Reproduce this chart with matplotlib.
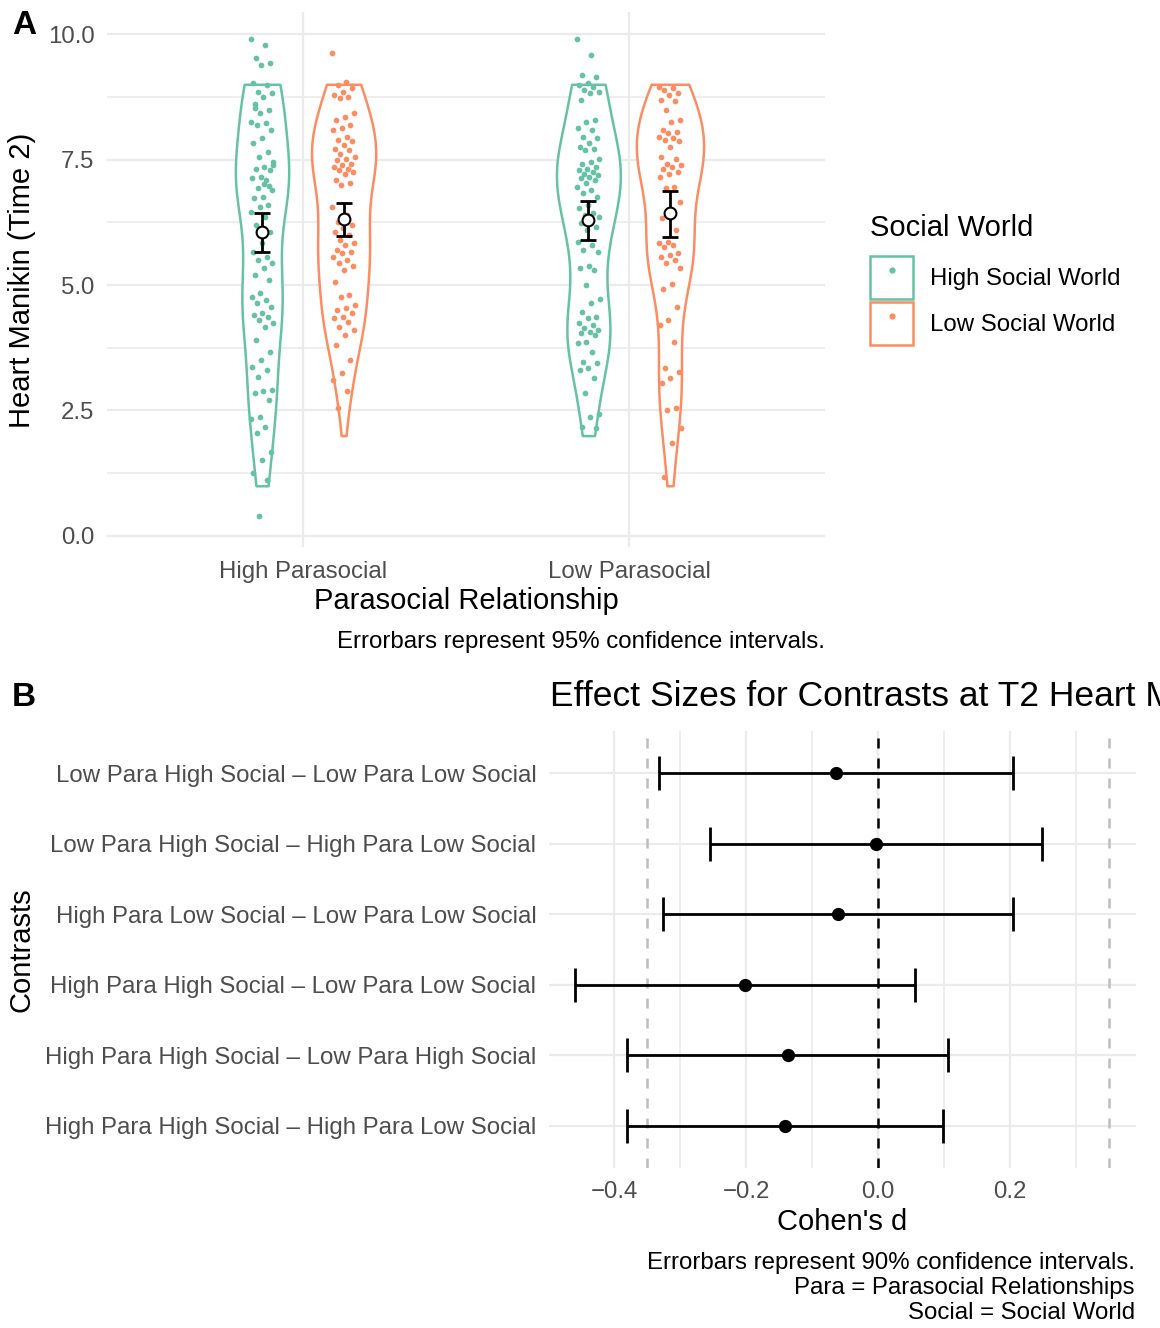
import numpy as np
import matplotlib
matplotlib.use("Agg")
import matplotlib.pyplot as plt
from matplotlib.patches import Rectangle
from matplotlib.lines import Line2D
from matplotlib.legend_handler import HandlerTuple

plt.rcParams['font.family'] = ['Liberation Sans', 'DejaVu Sans']

# ---- panel A data (jittered Heart Manikin responses) ----
para_levels = ["High Parasocial", "Low Parasocial"]
social_levels = ["High Social World", "Low Social World"]
social_colors = ["#66C2A5", "#FC8D62"]

hp_hs = [9.91, 9.78, 9.52, 9.42, 9.38, 9.02, 8.98, 8.85, 8.82, 8.75, 8.52, 8.49,
         8.42, 8.25, 8.22, 8.19, 8.09, 7.92, 7.82, 7.66, 7.56, 7.39, 7.36, 7.32,
         7.29, 7.16, 7.13, 7.09, 6.93, 6.89, 6.76, 6.73, 6.59, 6.56, 6.46, 6.36,
         6.20, 6.05, 5.83, 5.66, 5.56, 5.50, 5.43, 5.33, 5.20, 5.10, 4.84, 4.77,
         4.70, 4.64, 4.57, 4.44, 4.40, 4.37, 4.30, 4.24, 4.17, 3.90, 3.67, 3.51,
         3.37, 3.31, 3.17, 2.91, 2.88, 2.84, 2.71, 2.38, 2.34, 2.18, 2.05, 1.68,
         1.51, 1.25, 1.12, 0.39, 7.45, 7.02, 8.60, 6.98]
hp_ls = [9.63, 9.05, 8.98, 8.92, 8.85, 8.79, 8.75, 8.72, 8.42, 8.35, 8.29, 8.19,
         8.12, 8.09, 7.95, 7.89, 7.86, 7.79, 7.72, 7.69, 7.62, 7.56, 7.52, 7.49,
         7.42, 7.39, 7.36, 7.32, 7.29, 7.26, 7.22, 7.09, 7.03, 6.99, 6.55, 6.40,
         6.26, 6.20, 6.13, 6.06, 6.00, 5.90, 5.83, 5.80, 5.70, 5.66, 5.63, 5.56,
         5.50, 5.43, 5.37, 5.30, 5.07, 4.80, 4.77, 4.60, 4.54, 4.50, 4.44, 4.37,
         4.34, 4.27, 4.17, 4.10, 4.00, 3.80, 3.51, 3.24, 3.11, 2.88, 2.54]
lp_hs = [9.91, 9.58, 9.18, 9.15, 9.02, 8.98, 8.95, 8.88, 8.85, 8.82, 8.69, 8.29,
         8.25, 8.12, 8.09, 7.95, 7.92, 7.82, 7.76, 7.72, 7.69, 7.52, 7.46, 7.42,
         7.36, 7.32, 7.29, 7.26, 7.22, 7.19, 7.16, 7.13, 7.09, 7.03, 6.96, 6.89,
         6.83, 6.76, 6.59, 6.53, 6.43, 6.39, 6.36, 6.30, 6.23, 6.16, 6.10, 5.86,
         5.80, 5.70, 5.66, 5.37, 5.33, 5.30, 5.00, 4.73, 4.64, 4.47, 4.37, 4.34,
         4.24, 4.20, 4.14, 4.10, 4.07, 4.04, 4.00, 3.87, 3.84, 3.67, 3.47, 3.44,
         3.34, 3.31, 3.14, 2.84, 2.44, 2.38, 2.18, 2.15]
lp_ls = [8.95, 8.92, 8.88, 8.82, 8.79, 8.69, 8.67, 8.49, 8.29, 8.25, 8.09, 8.05,
         8.02, 7.95, 7.92, 7.89, 7.86, 7.76, 7.56, 7.52, 7.42, 7.39, 7.36, 7.32,
         7.26, 7.22, 7.16, 6.96, 6.93, 6.66, 6.46, 6.33, 6.10, 5.86, 5.83, 5.80,
         5.76, 5.63, 5.60, 5.56, 5.50, 5.43, 5.33, 5.03, 4.93, 4.57, 4.30, 4.20,
         3.87, 3.34, 3.27, 3.14, 3.04, 2.54, 2.51, 2.15, 1.85, 1.18]

# observed response range per cell (violins are trimmed to it)
resp_min = [1, 2, 2, 1]
resp_max = [9, 9, 9, 9]

# mean and 95% CI per cell: hp_hs, hp_ls, lp_hs, lp_ls
cell_mean = [6.05, 6.31, 6.29, 6.43]
cell_lo = [5.65, 5.98, 5.90, 5.95]
cell_hi = [6.44, 6.63, 6.68, 6.88]

# ---- panel B data ----
contrasts = ["Low Para High Social \u2013 Low Para Low Social",
             "Low Para High Social \u2013 High Para Low Social",
             "High Para Low Social \u2013 Low Para Low Social",
             "High Para High Social \u2013 Low Para Low Social",
             "High Para High Social \u2013 Low Para High Social",
             "High Para High Social \u2013 High Para Low Social"]
cohen_d = [-0.064, -0.003, -0.060, -0.201, -0.137, -0.141]
d_lo = [-0.332, -0.255, -0.326, -0.459, -0.380, -0.380]
d_hi = [0.204, 0.248, 0.204, 0.056, 0.106, 0.098]
sesoi = 0.35

W, H = 1160, 1328
fig = plt.figure(figsize=(W / 100, H / 100), dpi=100)

def fx(px):
    return px / W

def fy(py):
    return 1 - py / H

grid_col = "#EBEBEB"
tick_col = "#4D4D4D"
base = 21
small = 17.3

# ================= panel A =================
axA = fig.add_axes([fx(107), fy(547), fx(825) - fx(107), fy(12) - fy(547)])
axA.set_xlim(-0.6, 1.6)
axA.set_ylim(-0.22, 10.44)
for s in axA.spines.values():
    s.set_visible(False)
axA.set_yticks([0, 2.5, 5, 7.5, 10])
axA.set_yticklabels(["0.0", "2.5", "5.0", "7.5", "10.0"])
axA.set_yticks([1.25, 3.75, 6.25, 8.75], minor=True)
axA.set_xticks([0, 1])
axA.set_xticklabels(para_levels)
axA.tick_params(axis='both', which='both', length=0, labelsize=small, labelcolor=tick_col)
axA.tick_params(axis='y', pad=9)
axA.tick_params(axis='x', pad=10)
axA.grid(True, which='major', color=grid_col, lw=1.6)
axA.grid(True, which='minor', axis='y', color=grid_col, lw=1.2)
axA.set_axisbelow(True)

cells = [hp_hs, hp_ls, lp_hs, lp_ls]
dodge = 0.125
bw = 0.72
dens_list = []
for k, vals in enumerate(cells):
    v = np.asarray(vals)
    grid = np.linspace(resp_min[k], resp_max[k], 300)
    dens = np.exp(-0.5 * ((grid[:, None] - v[None, :]) / bw) ** 2).sum(1)
    dens /= dens.sum() * (grid[1] - grid[0])
    dens_list.append((grid, dens))
gmax = max(d.max() for _, d in dens_list)

for k, vals in enumerate(cells):
    p, s = k // 2, k % 2
    xc = p + (-dodge if s == 0 else dodge)
    col = social_colors[s]
    grid, dens = dens_list[k]
    half = dens / gmax * 0.103
    axA.fill_betweenx(grid, xc - half, xc + half, facecolor='white',
                      edgecolor=col, lw=1.8, zorder=2)
    n = len(vals)
    jit = ((np.arange(n) * 0.6180339) % 1 - 0.5) * 0.07
    axA.scatter(xc + jit, vals, s=17, color=col, lw=0, zorder=3)
    axA.errorbar(xc, cell_mean[k],
                 yerr=[[cell_mean[k] - cell_lo[k]], [cell_hi[k] - cell_mean[k]]],
                 fmt='none', ecolor='black', elinewidth=2.0, capsize=6, capthick=2.0,
                 zorder=4)
    axA.plot(xc, cell_mean[k], 'o', ms=8.5, mfc='white', mec='black', mew=1.5, zorder=5)

fig.text(fx(22), fy(280), "Heart Manikin (Time 2)", rotation=90, ha='center',
         va='center', fontsize=base)
fig.text(fx(466), fy(601), "Parasocial Relationship", ha='center', va='center',
         fontsize=base)
fig.text(fx(825), fy(642), "Errorbars represent 95% confidence intervals.",
         ha='right', va='center', fontsize=small)
fig.text(fx(12), fy(25), "A", ha='left', va='center', fontsize=24, fontweight='bold')

# legend: title as separate text so the key boxes can sit tight together
fig.text(fx(870), fy(228), "Social World", ha='left', va='center', fontsize=base)
handles = [(Rectangle((0, 0), 1, 1, facecolor='white', edgecolor=c, lw=1.8),
            Line2D([], [], marker='o', ls='', color=c, ms=3.5)) for c in social_colors]
leg = fig.legend(handles, social_levels, handler_map={tuple: HandlerTuple(ndivide=1)},
                 loc='upper left', bbox_to_anchor=(fx(870), fy(256)), frameon=False,
                 borderpad=0, borderaxespad=0,
                 handlelength=1.8, handleheight=2.38, labelspacing=0.12,
                 handletextpad=0.7, fontsize=small)

# ================= panel B =================
axB = fig.add_axes([fx(549), fy(1168), fx(1136) - fx(549), fy(731) - fy(1168)])
ny = len(contrasts)
ypos = np.arange(ny)
axB.set_ylim(ny - 0.4, -0.6)
axB.set_xlim(-0.4985, 0.391)
for s in axB.spines.values():
    s.set_visible(False)
axB.set_yticks(ypos)
axB.set_yticklabels(contrasts)
axB.set_xticks([-0.4, -0.2, 0.0, 0.2])
axB.set_xticklabels(["\u22120.4", "\u22120.2", "0.0", "0.2"])
axB.set_xticks([-0.3, -0.1, 0.1, 0.3], minor=True)
axB.tick_params(axis='both', which='both', length=0, labelsize=small, labelcolor=tick_col)
axB.tick_params(axis='y', pad=9)
axB.tick_params(axis='x', pad=9)
axB.grid(True, which='major', color=grid_col, lw=1.6)
axB.grid(True, which='minor', axis='x', color=grid_col, lw=1.2)
axB.set_axisbelow(True)

axB.axvline(-sesoi, color='#BEBEBE', ls=(0, (4, 4)), lw=1.8, zorder=1)
axB.axvline(sesoi, color='#BEBEBE', ls=(0, (4, 4)), lw=1.8, zorder=1)
axB.axvline(0, color='black', ls=(0, (4, 4)), lw=1.8, zorder=2)
cd = np.asarray(cohen_d)
axB.errorbar(cd, ypos, xerr=[cd - np.asarray(d_lo), np.asarray(d_hi) - cd],
             fmt='o', color='black', ms=8.5, elinewidth=2.0, capsize=12.5,
             capthick=2.0, zorder=3)

fig.text(fx(22), fy(950), "Contrasts", rotation=90, ha='center', va='center',
         fontsize=base)
fig.text(fx(842), fy(1222), "Cohen's d", ha='center', va='center', fontsize=base)
fig.text(fx(550), fy(697), "Effect Sizes for Contrasts at T2 Heart Manikin",
         ha='left', va='center', fontsize=25.5)
fig.text(fx(1135), fy(1263), "Errorbars represent 90% confidence intervals.",
         ha='right', va='center', fontsize=small)
fig.text(fx(1135), fy(1288), "Para = Parasocial Relationships",
         ha='right', va='center', fontsize=small)
fig.text(fx(1135), fy(1313), "Social = Social World",
         ha='right', va='center', fontsize=small)
fig.text(fx(12), fy(697), "B", ha='left', va='center', fontsize=24, fontweight='bold')

fig.savefig("out.png", dpi=100, facecolor='white')
